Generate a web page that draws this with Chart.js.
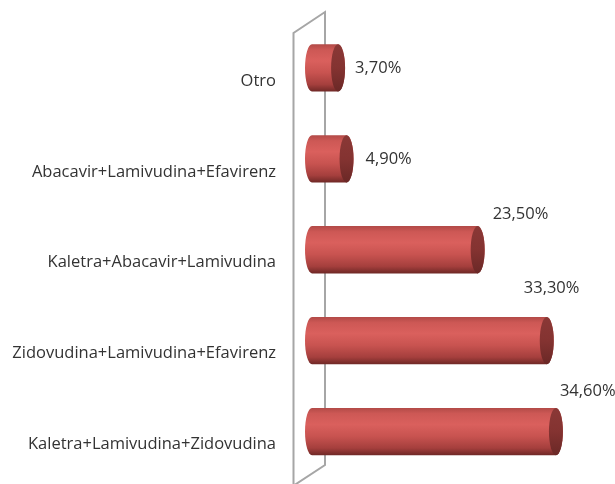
<!DOCTYPE html>
<html>
<head>
<meta charset="utf-8">
<script src="https://cdn.jsdelivr.net/npm/chart.js@4/dist/chart.umd.min.js"></script>
<style>
  html, body { margin: 0; padding: 0; background: #ffffff; }
  #wrap { width: 615px; height: 484px; position: relative; }
</style>
</head>
<body>
<div id="wrap"><canvas id="c" width="615" height="484"></canvas></div>
<script>
// ---- data ----
const categories = [
  'Otro',
  'Abacavir+Lamivudina+Efavirenz',
  'Kaletra+Abacavir+Lamivudina',
  'Zidovudina+Lamivudina+Efavirenz',
  'Kaletra+Lamivudina+Zidovudina'
];
const values = [3.7, 4.9, 23.5, 33.3, 34.6];
const axisMin = 0;
const axisMax = 40;

// ---- style / layout (not data) ----
const FONT = '"Open Sans", "Noto Sans", sans-serif';
const FONT_SIZE = 16.5;
const TEXT_COLOR = '#333333';
// label placement relative to the bar's outer right edge / centre (manually moved labels in original)
const labelNudges = [
  {dx: 10, dy: 0}, {dx: 12, dy: 0}, {dx: 8, dy: -35}, {dx: -30, dy: -52}, {dx: -3, dy: -40}
];
const CAP_RX = 7;

function fmt(v) { return v.toFixed(2).replace('.', ',') + '%'; }

const cylinderPlugin = {
  id: 'cylinder',
  beforeDatasetsDraw(chart) {
    const ctx = chart.ctx;
    const a = chart.chartArea;
    const L = a.left, T = a.top, B = a.bottom;
    const fx = L - 18.5, bx = L + 13;
    ctx.save();
    ctx.strokeStyle = '#a6a6a6';
    ctx.lineWidth = 2;
    ctx.beginPath();
    ctx.moveTo(fx, B + 12);
    ctx.lineTo(fx, T + 10.5);
    ctx.lineTo(bx, T - 10.5);
    ctx.lineTo(bx, B - 12);
    ctx.lineTo(fx - 2, B + 10);
    ctx.stroke();
    ctx.restore();
  },
  afterDatasetsDraw(chart) {
    const ctx = chart.ctx;
    const meta = chart.getDatasetMeta(0);
    meta.data.forEach((el, i) => {
      const p = el.getProps(['x', 'y', 'base', 'height'], true);
      const x0 = p.base, x1 = p.x, cy = p.y, h = p.height;
      const top = cy - h / 2, bot = cy + h / 2, ry = h / 2, rx = CAP_RX;
      ctx.save();
      const g = ctx.createLinearGradient(0, top, 0, bot);
      g.addColorStop(0, '#b24a47');
      g.addColorStop(0.12, '#cd5855');
      g.addColorStop(0.35, '#da605d');
      g.addColorStop(0.6, '#c85350');
      g.addColorStop(0.85, '#a53f3d');
      g.addColorStop(1, '#6f2826');
      ctx.beginPath();
      ctx.moveTo(x0, top);
      ctx.lineTo(x1, top);
      ctx.ellipse(x1, cy, rx, ry, 0, -Math.PI / 2, Math.PI / 2, false);
      ctx.lineTo(x0, bot);
      ctx.ellipse(x0, cy, rx, ry, 0, Math.PI / 2, Math.PI * 1.5, false);
      ctx.closePath();
      ctx.fillStyle = g;
      ctx.fill();
      const g2 = ctx.createLinearGradient(0, top, 0, bot);
      g2.addColorStop(0, '#8a3836');
      g2.addColorStop(0.5, '#843331');
      g2.addColorStop(1, '#6a2826');
      ctx.beginPath();
      ctx.ellipse(x1, cy, rx, ry, 0, 0, Math.PI * 2);
      ctx.fillStyle = g2;
      ctx.fill();
      const n = labelNudges[i] || {dx: 10, dy: 0};
      ctx.font = FONT_SIZE + 'px ' + FONT;
      ctx.fillStyle = TEXT_COLOR;
      ctx.textAlign = 'left';
      ctx.textBaseline = 'middle';
      ctx.fillText(fmt(values[i]), x1 + rx + n.dx, cy + n.dy);
      ctx.restore();
    });
  }
};

new Chart(document.getElementById('c'), {
  type: 'bar',
  data: {
    labels: categories,
    datasets: [{
      data: values,
      backgroundColor: 'rgba(0,0,0,0)',
      borderWidth: 0,
      barPercentage: 0.52,
      categoryPercentage: 1
    }]
  },
  options: {
    indexAxis: 'y',
    responsive: false,
    devicePixelRatio: 1,
    animation: false,
    layout: { padding: { top: 22.5, bottom: 7, right: 21, left: 0 } },
    plugins: { legend: { display: false }, tooltip: { enabled: false } },
    scales: {
      x: { min: axisMin, max: axisMax, display: false },
      y: {
        grid: { display: false, drawTicks: false },
        border: { display: false },
        ticks: {
          color: TEXT_COLOR,
          font: { family: FONT, size: FONT_SIZE },
          padding: 36,
          labelOffset: 13
        },
        afterFit(scale) {
          scale.width = 312;
          scale.paddingTop = 0;
          scale.paddingBottom = 0;
        }
      }
    }
  },
  plugins: [cylinderPlugin]
});
</script>
</body>
</html>
